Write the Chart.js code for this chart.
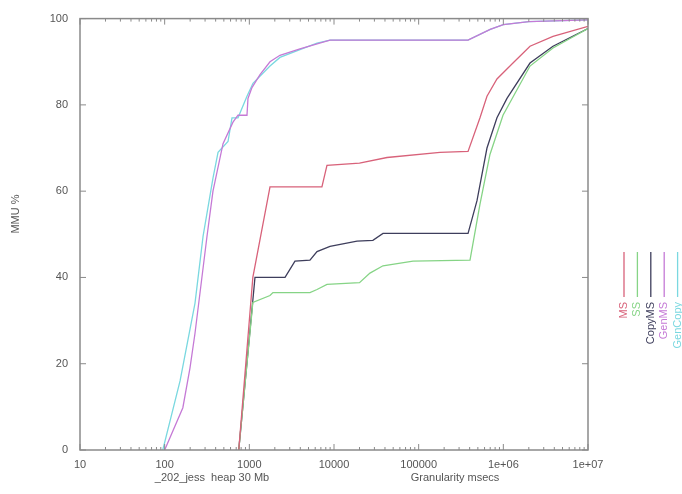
<!DOCTYPE html>
<html>
<head>
<meta charset="utf-8">
<script src="https://cdn.jsdelivr.net/npm/chart.js@4/dist/chart.umd.min.js"></script>
<style>
  html, body { margin: 0; padding: 0; background: #fff; }
  #wrap { width: 682px; height: 494px; }
</style>
</head>
<body>
<div id="wrap"><canvas id="mmuChart"></canvas></div>
<script>
let seriesNames = ["MS", "SS", "CopyMS", "GenMS", "GenCopy"];
let seriesColors = ["#d8627a", "#86d486", "#3e3e5c", "#c57ad6", "#7ad8e0"];

let msGran = [750, 1100, 1754, 7200, 8260, 20000, 42300, 178600, 383000, 530000, 641000, 841000, 1300000, 2065000, 3860000, 10000000];
let msMmu  = [0, 40, 61, 61, 66, 66.5, 67.8, 69, 69.2, 77, 82, 86, 89.7, 93.6, 95.9, 98.2];

let ssGran = [750, 1100, 1754, 1900, 5200, 6300, 8260, 20000, 26600, 37900, 85700, 404000, 530000, 695000, 991000, 2065000, 3860000, 10000000];
let ssMmu  = [0, 34.2, 35.8, 36.5, 36.5, 37.2, 38.4, 38.8, 41, 42.7, 43.8, 44, 57, 68.5, 77.6, 89, 93.2, 97.7];

let copyGran = [750, 1166, 2640, 3460, 5200, 6300, 8970, 18700, 28800, 37900, 383000, 488600, 641000, 841000, 1104000, 2065000, 3860000, 10000000];
let copyMmu  = [0, 40, 40, 43.8, 44, 46, 47.2, 48.4, 48.6, 50.2, 50.2, 57.8, 70, 77, 81.5, 89.7, 93.6, 97.7];

let genMsGran = [100, 164, 199, 228, 316, 372, 489, 641, 735, 938, 964, 1074, 1337, 1754, 2300, 3960, 8970, 383000, 700000, 1000000, 2000000, 10000000];
let genMsMmu  = [0, 9.8, 19, 27, 49.5, 60, 71, 76, 77.6, 77.6, 81.5, 84, 87, 90, 91.5, 93, 95, 95, 97.5, 98.6, 99.3, 99.7];

let genCopyGran = [95, 152, 228, 284, 372, 427, 560, 624, 735, 938, 1104, 1754, 2300, 3960, 6300, 8970, 383000, 700000, 1000000, 2000000, 10000000];
let genCopyMmu  = [0, 16, 34, 49.5, 63, 69, 71.5, 77, 77, 82, 85, 89, 91, 92.8, 94.3, 95, 95, 97.5, 98.6, 99.3, 99.7];

let xTickValues = [10, 100, 1000, 10000, 100000, 1000000, 10000000];
let xTickLabels = ["10", "100", "1000", "10000", "100000", "1e+06", "1e+07"];
let yTickValues = [0, 20, 40, 60, 80, 100];

let allGran = [msGran, ssGran, copyGran, genMsGran, genCopyGran];
let allMmu = [msMmu, ssMmu, copyMmu, genMsMmu, genCopyMmu];

const FONT = "'Liberation Sans', Arial, sans-serif";
const AXIS = "#8a8a8a";
const TEXT = "#555";

let datasets = seriesNames.map((name, i) => ({
    label: name,
    data: allGran[i].map((g, j) => ({ x: g, y: allMmu[i][j] })),
    borderColor: seriesColors[i],
    borderWidth: 1.3,
    pointRadius: 0,
    showLine: true,
    fill: false,
    tension: 0
}));

// gnuplot-like frame, inward ticks, side texts and a rotated legend
const framePlugin = {
    id: "frame",
    afterDraw(chart) {
        const ctx = chart.ctx;
        const a = chart.chartArea;
        const xs = chart.scales.x, ys = chart.scales.y;
        ctx.save();
        ctx.strokeStyle = AXIS;
        ctx.lineWidth = 1.5;
        ctx.strokeRect(a.left, a.top, a.right - a.left, a.bottom - a.top);

        ctx.lineWidth = 1;
        ctx.beginPath();
        for (let d = 1; d < 7; d++) {
            for (let m = 2; m <= 9; m++) {
                let px = xs.getPixelForValue(m * Math.pow(10, d));
                ctx.moveTo(px, a.bottom); ctx.lineTo(px, a.bottom - 3);
                ctx.moveTo(px, a.top); ctx.lineTo(px, a.top + 3);
            }
        }
        xTickValues.forEach(v => {
            let px = xs.getPixelForValue(v);
            ctx.moveTo(px, a.bottom); ctx.lineTo(px, a.bottom - 6);
            ctx.moveTo(px, a.top); ctx.lineTo(px, a.top + 6);
        });
        yTickValues.forEach(v => {
            let py = ys.getPixelForValue(v);
            ctx.moveTo(a.left, py); ctx.lineTo(a.left + 6, py);
            ctx.moveTo(a.right, py); ctx.lineTo(a.right - 6, py);
        });
        ctx.stroke();

        ctx.fillStyle = TEXT;
        ctx.font = "11px " + FONT;
        ctx.textAlign = "center";
        ctx.textBaseline = "middle";
        ctx.fillText("_202_jess  heap 30 Mb", 212, 478);
        ctx.fillText("Granularity msecs", 455, 478);

        ctx.save();
        ctx.translate(16, 214);
        ctx.rotate(-Math.PI / 2);
        ctx.fillText("MMU %", 0, 0);
        ctx.restore();

        // legend: vertical sample line above rotated label
        seriesNames.forEach((name, i) => {
            let lx = 624 + i * 13.4;
            ctx.strokeStyle = seriesColors[i];
            ctx.lineWidth = 1.3;
            ctx.beginPath();
            ctx.moveTo(lx, 252); ctx.lineTo(lx, 297);
            ctx.stroke();
            ctx.save();
            ctx.translate(lx, 302);
            ctx.rotate(-Math.PI / 2);
            ctx.textAlign = "right";
            ctx.textBaseline = "middle";
            ctx.fillStyle = seriesColors[i];
            ctx.font = "11px " + FONT;
            ctx.fillText(name, 0, 0);
            ctx.restore();
        });
        ctx.restore();
    }
};

new Chart("mmuChart", {
    type: "scatter",
    data: { datasets: datasets },
    options: {
        responsive: true,
        maintainAspectRatio: false,
        animation: false,
        layout: { padding: { left: 0, top: 12, right: 94, bottom: 0 } },
        plugins: {
            legend: { display: false },
            tooltip: { enabled: false }
        },
        scales: {
            x: {
                type: "logarithmic",
                min: 10,
                max: 10000000,
                afterBuildTicks: scale => { scale.ticks = xTickValues.map(v => ({ value: v })); },
                afterFit: scale => { scale.height = 44; },
                grid: { display: false, drawTicks: false },
                border: { display: false },
                ticks: {
                    autoSkip: false,
                    maxRotation: 0,
                    padding: 8,
                    color: TEXT,
                    font: { family: FONT, size: 11 },
                    callback: v => xTickLabels[xTickValues.indexOf(v)]
                }
            },
            y: {
                min: 0,
                max: 100,
                afterBuildTicks: scale => { scale.ticks = yTickValues.map(v => ({ value: v })); },
                afterFit: scale => { scale.width = 80; },
                grid: { display: false, drawTicks: false },
                border: { display: false },
                ticks: {
                    padding: 12,
                    color: TEXT,
                    font: { family: FONT, size: 11 }
                }
            }
        }
    },
    plugins: [framePlugin]
});
</script>
</body>
</html>
